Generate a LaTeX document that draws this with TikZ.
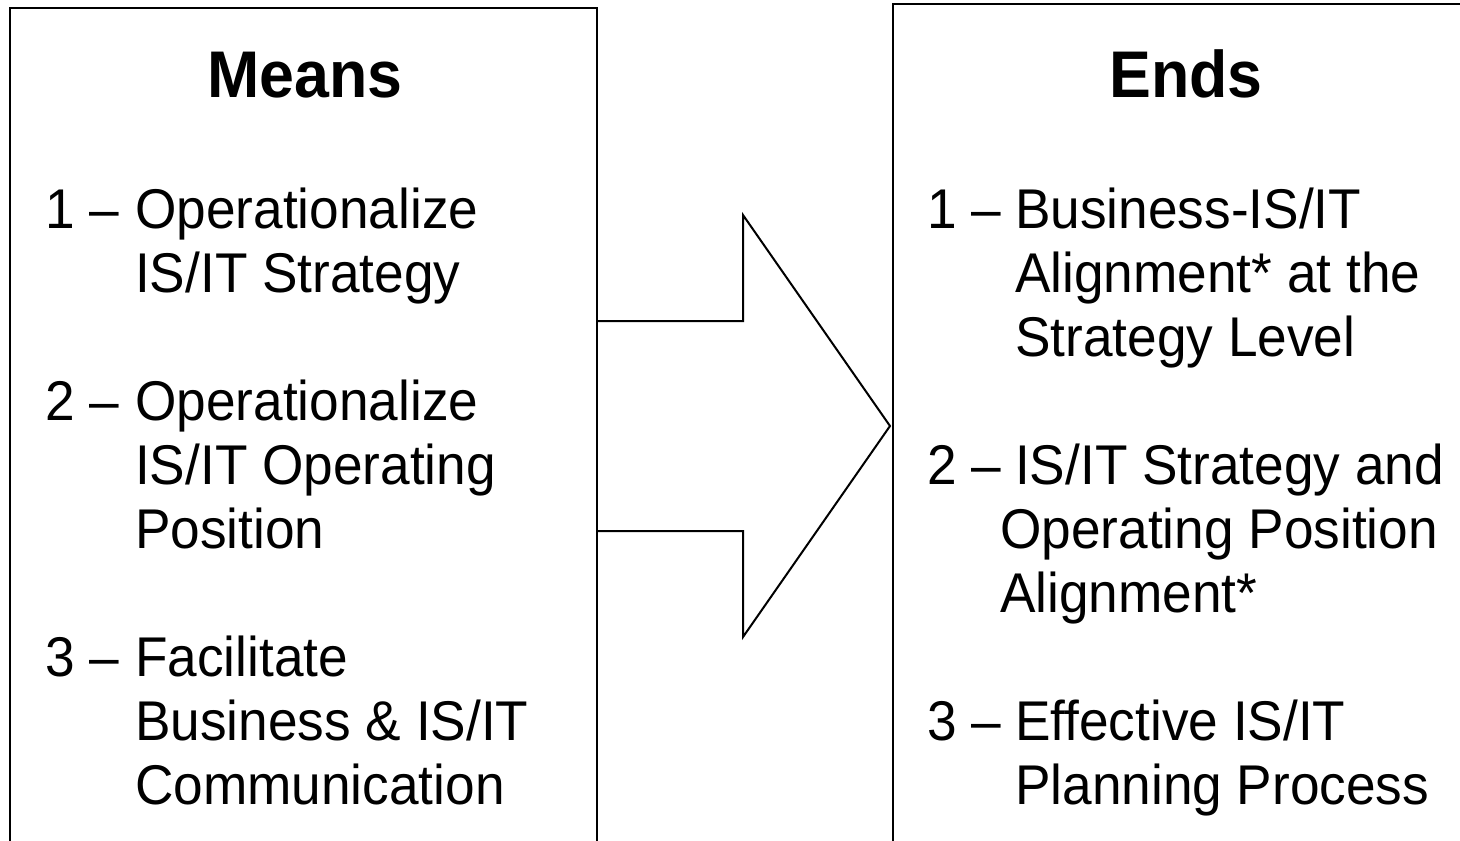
\documentclass[tikz,border=0pt]{standalone}
\usepackage{fontspec}
\setmainfont[FakeStretch=0.95]{Liberation Sans}
\usetikzlibrary{positioning}

\begin{document}
\begin{tikzpicture}[
  x=1pt, y=-1pt,
  itemline/.style={anchor=base west, inner sep=0pt, font=\fontsize{56}{64}\selectfont},
  heading/.style={anchor=base, inner sep=0pt, font=\fontsize{66}{70}\selectfont\bfseries},
  frame/.style={line width=2pt, draw=black}
]
\useasboundingbox (0,0) rectangle (1460,841);
% the two boxes, open at the bottom
\draw[frame] (10,850) -- (10,8) -- (597,8) -- (597,850);
\draw[frame] (893,850) -- (893,4) -- (1462,4);
% big arrow between them
\draw[frame, line join=miter] (597,321) -- (743,321) -- (743,215) -- (890,426)
  -- (743,637) -- (743,531) -- (597,531);

% means
\node[heading] (means) at (305,97) {Means};
\node[itemline] (m1n) at (45,228) {1 –};
\node[itemline] (m1a) at (135,228) {Operationalize};
\node[itemline] (m1b) at (135,292) {IS/IT Strategy};
\node[itemline] (m2n) at (45,420) {2 –};
\node[itemline] (m2a) at (135,420) {Operationalize};
\node[itemline] (m2b) at (135,484) {IS/IT Operating};
\node[itemline] (m2c) at (135,548) {Position};
\node[itemline] (m3n) at (45,676) {3 –};
\node[itemline] (m3a) at (135,676) {Facilitate};
\node[itemline] (m3b) at (135,740) {Business \& IS/IT};
\node[itemline] (m3c) at (135,804) {Communication};

% ends
\node[heading] (ends) at (1186,97) {Ends};
\node[itemline] (e1n) at (927,228) {1 –};
\node[itemline] (e1a) at (1015,228) {Business-IS/IT};
\node[itemline] (e1b) at (1015,292) {Alignment* at the};
\node[itemline] (e1c) at (1015,356) {Strategy Level};
\node[itemline] (e2n) at (927,484) {2 –};
\node[itemline] (e2a) at (1015,484) {IS/IT Strategy and};
\node[itemline] (e2b) at (1000,548) {Operating Position};
\node[itemline] (e2c) at (1000,612) {Alignment*};
\node[itemline] (e3n) at (927,740) {3 –};
\node[itemline] (e3a) at (1015,740) {Effective IS/IT};
\node[itemline] (e3b) at (1015,804) {Planning Process};
\end{tikzpicture}
\end{document}
